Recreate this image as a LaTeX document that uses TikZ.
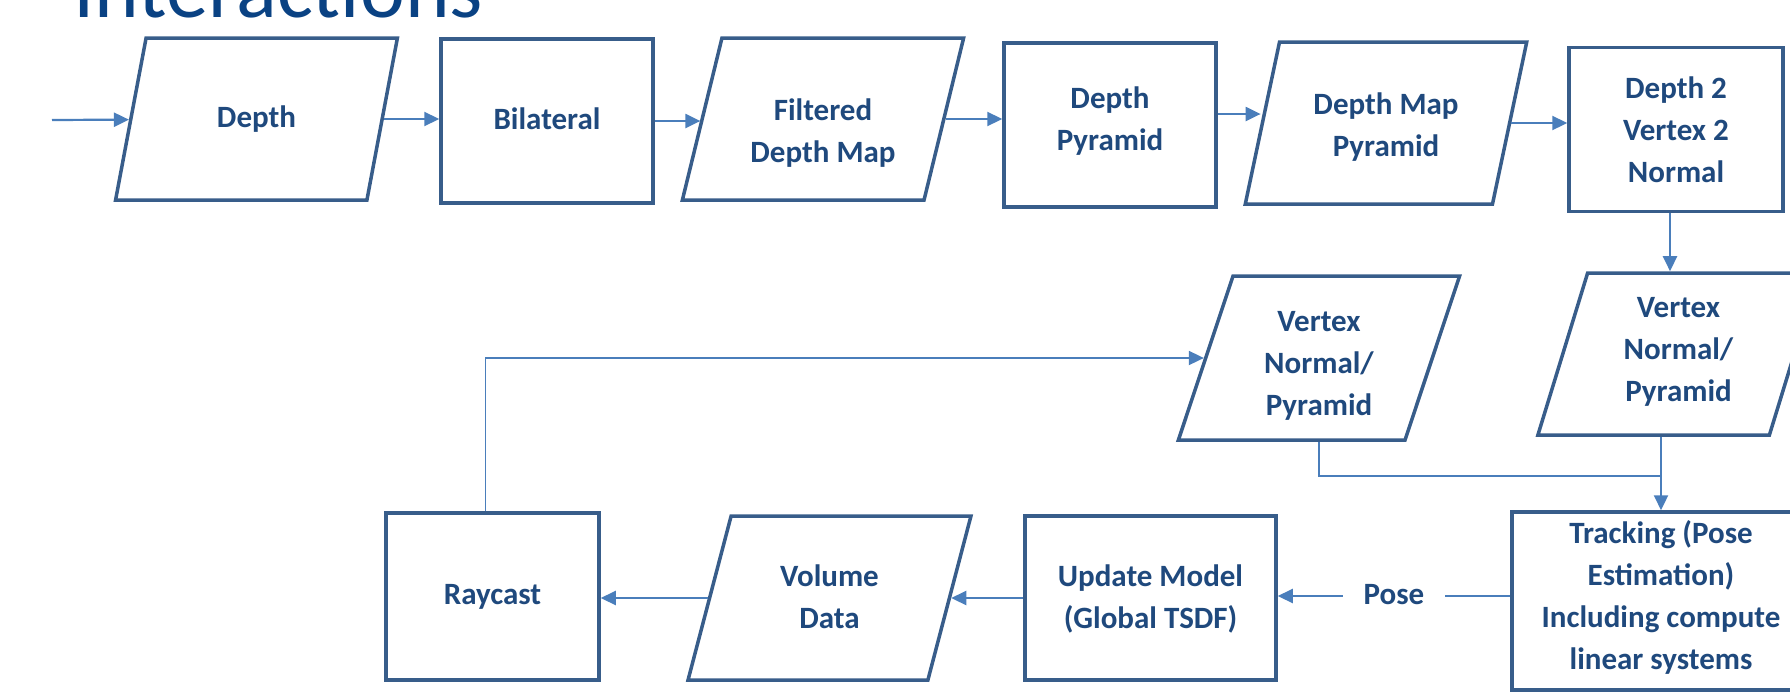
\documentclass[tikz,border=0pt]{standalone}
\usepackage{fontspec}
\setmainfont{Carlito}
\usetikzlibrary{shapes.geometric,arrows.meta}
\definecolor{boxline}{HTML}{385D8A}
\definecolor{arrowline}{HTML}{4A7EBB}
\definecolor{boxtext}{HTML}{1F497D}
\definecolor{titletext}{HTML}{0A4283}

\begin{document}
\begin{tikzpicture}[x=1pt,y=-1pt,
  box/.style={draw=boxline, line width=3.5pt, fill=white, text=boxtext,
    font=\fontsize{31}{42}\selectfont\bfseries, align=center, inner sep=2pt,
    execute at begin node=\strut, execute at end node=\strut},
  % invisible rule measured up from the last baseline: a taller one
  % enlarges the text box upwards, so the lines sit lower in the shape
  textdrop/.style={execute at begin node={\rule{0pt}{#1}}},
  procbox/.style={box, rectangle, minimum width=212pt, minimum height=164pt},
  databox/.style={box, trapezium, trapezium left angle=76, trapezium right angle=104,
    trapezium stretches=true, minimum width=282pt, minimum height=162pt},
  flow/.style={draw=arrowline, line width=2.2pt, -{Triangle[length=15pt,width=14pt]}},
  feed/.style={draw=arrowline, line width=1.6pt},
  lbl/.style={text=boxtext, font=\fontsize{31}{42}\selectfont\bfseries, fill=white,
    inner xsep=21pt, inner ysep=2pt, execute at begin node=\strut}
]
\useasboundingbox (0,0) rectangle (1790,691);
\clip (0,0) rectangle (1790,691);

% heading
\node[anchor=base west, inner sep=0pt, text=titletext,
      font=\fontsize{85}{100}\selectfont] (title) at (73,17) {Interactions};

% top row
\node[databox] (depth) at (256.5,119) {Depth};
\node[procbox] (bil)   at (547,121)   {Bilateral};
\node[databox, textdrop=100.5pt] (filt) at (823,119) {Filtered\\Depth Map};
\node[procbox] (dpyr)  at (1110,125)  {Depth\\Pyramid};
\node[databox, textdrop=79.5pt] (dmp) at (1386,123) {Depth Map\\Pyramid};
\node[procbox, minimum width=214pt, textdrop=119.5pt] (d2v) at (1676,129.5) {Depth 2\\Vertex 2\\Normal};

% middle row
\node[databox, minimum height=164pt, textdrop=128pt] (vnpL) at (1319,358) {Vertex\\Normal/\\Pyramid};
\node[databox, textdrop=108pt] (vnpR) at (1678.5,354) {Vertex\\Normal/\\Pyramid};

% bottom row
\node[procbox, minimum width=298pt, minimum height=178pt] (track) at (1661,601)
  {Tracking (Pose\\Estimation)\\Including compute\\linear systems};
\node[procbox, minimum width=251pt, textdrop=73.5pt] (upd) at (1150.5,598) {Update Model\\(Global TSDF)};
\node[databox, minimum width=283pt, minimum height=164pt, textdrop=73.5pt] (vol) at (829.5,598) {Volume\\Data};
\node[procbox, minimum width=213pt, minimum height=167pt] (ray) at (492.5,596.5) {Raycast};

% connectors
\coordinate (in) at (52,120);
\coordinate (join) at (1661,476);
\draw[flow] (in) -- (depth);
\draw[flow] (depth.east) -- (depth.east -| bil.west);
\draw[flow] (bil.east) -- (bil.east -| filt.west);
\draw[flow] (filt.east) -- (filt.east -| dpyr.west);
\draw[flow] ([yshift=11pt]dpyr.east) -- ([yshift=11pt]dpyr.east -| dmp.west);
\draw[flow] (dmp.east) -- (dmp.east -| d2v.west);
\draw[flow] ([xshift=-6pt]d2v.south) -- ([xshift=-6pt]d2v.south |- vnpR.north);
\draw[flow] (vnpR.south -| track.north) -- (track.north);
\draw[feed] (vnpL.south) |- (join);
\draw[flow] ([yshift=5pt]track.west) -- node[lbl] (pose) {Pose} ([yshift=5pt]track.west -| upd.east);
\draw[flow] (upd.west) -- (upd.west -| vol.east);
\draw[flow] (vol.west) -- (vol.west -| ray.east);
\draw[flow, line width=1.8pt] ([xshift=-7pt]ray.north) |- (vnpL.west);
\end{tikzpicture}
\end{document}
